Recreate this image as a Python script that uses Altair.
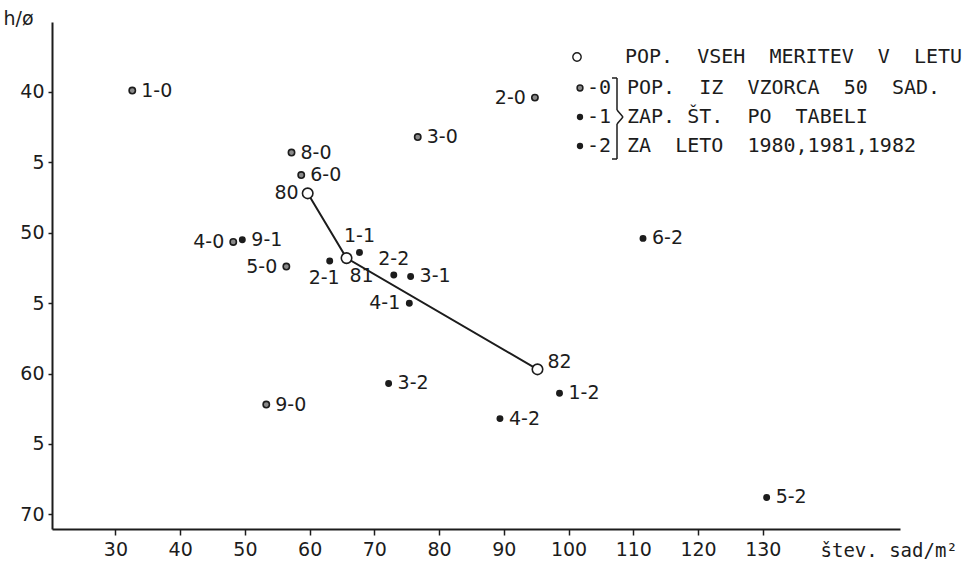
import altair as alt
import pandas as pd

# ---- data ----
labels = ["1-0", "2-0", "3-0", "8-0", "6-0", "4-0", "5-0", "9-0",
          "9-1", "1-1", "2-1", "3-1", "4-1",
          "2-2", "6-2", "3-2", "1-2", "4-2", "5-2",
          "80", "81", "82"]
stev_sad = [32.6, 94.8, 76.7, 57.2, 58.7, 48.2, 56.4, 53.3,
            49.6, 67.7, 63.1, 75.6, 75.4,
            73.0, 111.5, 72.2, 98.6, 89.4, 130.6,
            59.7, 65.7, 95.2]
h_phi = [39.9, 40.4, 43.2, 44.3, 45.9, 50.65, 52.4, 62.2,
         50.5, 51.4, 52.0, 53.1, 55.0,
         53.0, 50.4, 60.7, 61.4, 63.2, 68.8,
         47.2, 51.8, 59.7]
kind = ["0"] * 8 + ["1"] * 5 + ["2"] * 6 + ["leto"] * 3
label_side = ["r", "l", "r", "r", "r", "l", "l", "r",
              "r", "t", "bl", "r", "l",
              "t", "r", "r", "r", "r", "r",
              "l", "br", "tr"]

x_ticks = [30, 40, 50, 60, 70, 80, 90, 100, 110, 120, 130]
y_ticks = [40, 45, 50, 55, 60, 65, 70]

NB = "\u00a0"
legend_rows = [f"POP.{NB*2}VSEH{NB*2}MERITEV{NB*2}V{NB*2}LETU",
               f"POP.{NB*2}IZ{NB*2}VZORCA{NB*2}50{NB*2}SAD.",
               f"ZAP.{NB}ŠT.{NB*2}PO{NB*2}TABELI",
               f"ZA{NB*2}LETO{NB*2}1980,1981,1982"]
legend_keys = ["-0", "-1", "-2"]

FONT = "DejaVu Sans"
LFONT = "DejaVu Sans Mono"
INK = "#1c1c1c"

df = pd.DataFrame({"label": labels, "x": stev_sad, "y": h_phi,
                   "kind": kind, "side": label_side})
df["order"] = range(len(df))

xs = alt.Scale(domain=[20.2, 151.2], nice=False, zero=False)
ys = alt.Scale(domain=[35.03, 71.04], nice=False, zero=False, reverse=True)

base = alt.Chart(df)

X = alt.X("x:Q", scale=xs,
          axis=alt.Axis(values=x_ticks, title=f"štev.{NB}sad/m²", grid=False,
                        domainColor=INK, domainWidth=2, tickColor=INK,
                        tickSize=6, tickWidth=1.5, labelFont=FONT,
                        labelFontSize=19, labelColor=INK, labelPadding=5,
                        titleFont=LFONT, titleFontSize=19, titleFontWeight="normal",
                        titleColor=INK, titleAnchor="start", titleAlign="left",
                        titleX=768, titleY=21, titleBaseline="middle"))
Y = alt.Y("y:Q", scale=ys,
          axis=alt.Axis(values=y_ticks, title="h/ø", grid=False,
                        labelExpr="datum.value % 10 == 0 ? datum.label : '5'",
                        domainColor=INK, domainWidth=2, tickColor=INK,
                        tickSize=4, tickWidth=1.5, labelFont=FONT,
                        labelFontSize=19, labelColor=INK, labelPadding=4,
                        titleFont=FONT, titleFontSize=19, titleFontWeight="normal",
                        titleColor=INK, titleAngle=0, titleAlign="center",
                        titleBaseline="middle", titleX=-34, titleY=-4))

line = base.transform_filter(alt.datum.kind == "leto").mark_line(
    color=INK, strokeWidth=2).encode(x=X, y=Y, order="order:Q")

dots12 = base.transform_filter(
    (alt.datum.kind == "1") | (alt.datum.kind == "2")).mark_point(
    shape="circle", filled=True, color=INK, size=48, opacity=1).encode(x=X, y=Y)

dots0 = base.transform_filter(alt.datum.kind == "0").mark_point(
    shape="circle", filled=True, fill="#8a8a8a", stroke=INK, strokeWidth=1.6,
    size=40, opacity=1).encode(x=X, y=Y)

circles = base.transform_filter(alt.datum.kind == "leto").mark_point(
    shape="circle", filled=True, fill="white", stroke=INK, strokeWidth=1.6,
    size=110, opacity=1).encode(x=X, y=Y)

side_style = {
    "r": dict(align="left", dx=9, dy=0),
    "l": dict(align="right", dx=-9, dy=0),
    "t": dict(align="center", dx=0, dy=-16),
    "br": dict(align="left", dx=3, dy=18),
    "bl": dict(align="right", dx=10, dy=17),
    "tr": dict(align="left", dx=10, dy=-7),
}
texts = []
for s, st in side_style.items():
    texts.append(base.transform_filter(alt.datum.side == s).mark_text(
        font=FONT, fontSize=19, color=INK, baseline="middle", **st
    ).encode(x=X, y=Y, text="label:N"))

# ---- legend (decoration, placed in pixels relative to plot origin) ----
one = alt.Chart(pd.DataFrame({"a": [0]}))
LX, LY = 531, [35, 66, 95, 124]
leg = []
leg.append(one.mark_point(shape="circle", filled=True, fill="white", stroke=INK,
                          strokeWidth=1.4, size=70, opacity=1).encode(
    x=alt.value(LX - 6), y=alt.value(LY[0])))
for i, t in enumerate(legend_rows):
    leg.append(one.mark_text(font=LFONT, fontSize=20, color=INK, align="left",
                             baseline="middle").encode(
        x=alt.value(LX + 42 if i == 0 else LX + 44), y=alt.value(LY[i]),
        text=alt.value(t)))
leg.append(one.mark_point(shape="circle", filled=True, fill="#8a8a8a", stroke=INK,
                          strokeWidth=1.5, size=34, opacity=1).encode(
    x=alt.value(LX - 3), y=alt.value(LY[1])))
for i in (2, 3):
    leg.append(one.mark_point(shape="circle", filled=True, color=INK, size=40,
                              opacity=1).encode(
        x=alt.value(LX - 3), y=alt.value(LY[i])))
for i, k in enumerate(legend_keys):
    leg.append(one.mark_text(font=LFONT, fontSize=20, color=INK, align="left",
                             baseline="middle").encode(
        x=alt.value(LX + 4), y=alt.value(LY[i + 1]), text=alt.value(k)))
# brace
BX = LX + 34
segs = [(BX, BX, 56, 88), (BX, BX, 102, 137),
        (BX - 5, BX, 56, 56), (BX - 5, BX, 137, 137),
        (BX, BX + 6, 88, 95), (BX + 6, BX, 95, 102)]
for seg in segs:
    leg.append(one.mark_rule(color=INK, strokeWidth=1.5).encode(
        x=alt.value(seg[0]), x2=alt.value(seg[1]),
        y=alt.value(seg[2]), y2=alt.value(seg[3])))

chart = alt.layer(line, dots12, dots0, circles, *texts, *leg).properties(
    width=848, height=507,
    autosize=alt.AutoSizeParams(type="none"),
    padding={"left": 52, "top": 22, "right": 79, "bottom": 34},
    background="white",
).configure_view(stroke=None)

chart.save("out.html", embed_options={"renderer": "svg", "actions": False})
